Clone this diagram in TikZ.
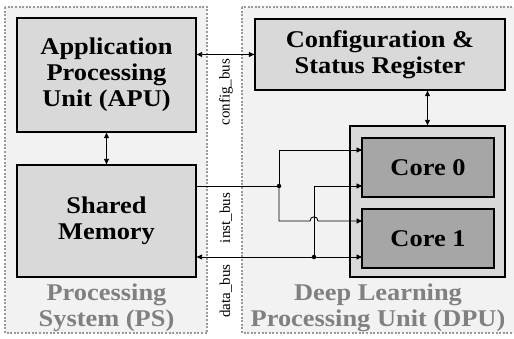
\documentclass[tikz,border=0pt]{standalone}
\usepackage{fontspec}
\setmainfont{Liberation Serif}
\newfontfamily\widefont{Liberation Serif}[FakeStretch=1.1]
\usetikzlibrary{arrows.meta}
\definecolor{regionfill}{HTML}{F2F2F2}
\definecolor{boxfill}{HTML}{D9D9D9}
\definecolor{corefill}{HTML}{A6A6A6}
\definecolor{labelgray}{HTML}{808080}
\definecolor{dotgray}{HTML}{999999}
\tikzset{
  region/.style={fill=regionfill, draw=dotgray, line width=1.2pt, dash pattern=on 2pt off 1.6pt},
  block/.style={draw=black, fill=boxfill, line width=1.3pt, align=center, inner sep=0pt,
    font=\widefont\fontsize{24}{26}\selectfont\bfseries},
  corebox/.style={draw=black, fill=corefill, line width=1.3pt, align=center, inner sep=0pt,
    font=\widefont\fontsize{24}{26}\selectfont\bfseries},
  regionlabel/.style={text=labelgray, align=center, font=\widefont\fontsize{24}{26}\selectfont\bfseries},
  buslabel/.style={rotate=90, font=\fontsize{15}{16}\selectfont},
  wire/.style={line width=0.9pt, draw=black},
  tip/.style={-{Triangle[length=5.5pt,width=5pt]}},
  bitip/.style={{Triangle[length=5.5pt,width=5pt]}-{Triangle[length=5.5pt,width=5pt]}},
  dot/.style={circle, fill=black, inner sep=0pt, minimum size=4.5pt}
}
\begin{document}
\begin{tikzpicture}[x=1pt,y=-1pt]
\clip (0,0) rectangle (514,339);
\fill[white] (0,0) rectangle (514,339);
% regions
\draw[region] (5,7) rectangle (207,333);
\draw[region] (242,7) rectangle (530,333);
% blocks
\node[block, minimum width=179pt, minimum height=114pt] (apu) at (106.5,75) {Application\\Processing\\Unit (APU)};
\node[block, minimum width=179pt, minimum height=112pt] (sm) at (106.5,221) {Shared\\Memory};
\node[block, minimum width=250pt, minimum height=71pt] (csr) at (380,54.5) {Configuration \&\\Status Register};
\node[draw=black, fill=boxfill, line width=1.3pt, minimum width=155pt, minimum height=151pt, inner sep=0pt] (dpu) at (427.5,201.5) {};
\node[corebox, minimum width=132pt, minimum height=59pt] (core0) at (428,167.5) {Core 0};
\node[corebox, minimum width=132pt, minimum height=59pt] (core1) at (428,238.5) {Core 1};
% region labels
\node[regionlabel] (pslabel) at (106.5,308) {Processing\\System (PS)};
\node[regionlabel] (dpulabel) at (378,308) {Deep Learning\\Processing Unit (DPU)};
% bus labels
\node[buslabel] (cfgl) at (226,92) {config\_bus};
\node[buslabel] (instl) at (226,218) {inst\_bus};
\node[buslabel] (datal) at (226,291) {data\_bus};
% coordinates
\coordinate (j1) at (279,186);
\coordinate (j2) at (314,257);
\coordinate (c0a) at (362,150);
\coordinate (c0b) at (362,186);
\coordinate (c1a) at (362,221);
\coordinate (c1b) at (362,257);
\coordinate (ha) at (310,221);
\coordinate (hb) at (318,221);
% connectors
\draw[wire, bitip] (apu.east |- csr.west) -- (csr.west);
\draw[wire, bitip] (apu.south) -- (sm.north);
\draw[wire, bitip] (dpu.north |- csr.south) -- (dpu.north);
\draw[wire] (sm.east |- j1) -- (j1);
\draw[wire, tip] (j1) |- (c0a);
\draw[wire, tip] (j1) |- (ha) .. controls (310,215.5) and (318,215.5) .. (hb) -- (c1a);
\draw[wire, tip] (j2) |- (c0b);
\draw[wire, bitip] (sm.east |- j2) -- (c1b);
\node[dot] (d1) at (j1) {};
\node[dot] (d2) at (j2) {};
\end{tikzpicture}
\end{document}
